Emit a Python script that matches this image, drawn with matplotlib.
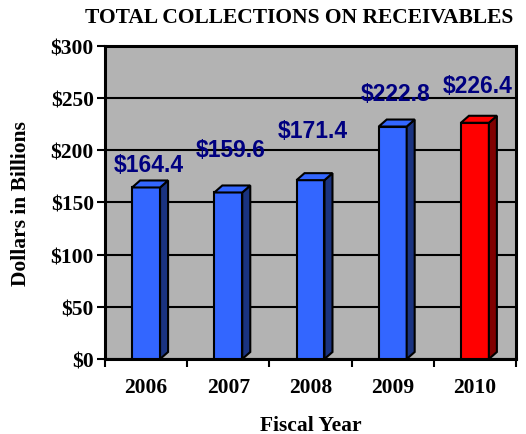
import numpy as np
import matplotlib
matplotlib.use("Agg")
import matplotlib.pyplot as plt
from matplotlib.patches import Polygon

years = ["2006", "2007", "2008", "2009", "2010"]
values = [164.4, 159.6, 171.4, 222.8, 226.4]
labels = ["$164.4", "$159.6", "$171.4", "$222.8", "$226.4"]
yticks = [0, 50, 100, 150, 200, 250, 300]
ytick_labels = ["$0", "$50", "$100", "$150", "$200", "$250", "$300"]
# label lift above each bar top (data units), as placed in the original
label_lift = [22, 41, 48, 32, 36]

front_cols = ["#3366ff"] * 4 + ["#ff0000"]
side_cols = ["#1a3380"] * 4 + ["#800000"]

serif = ["Liberation Serif", "DejaVu Serif"]
sans = ["Liberation Sans", "DejaVu Sans"]

fig = plt.figure(figsize=(5.26, 4.35), dpi=100)
fig.patch.set_facecolor("white")
ax = fig.add_axes([0.1996, 0.1724, 0.7814, 0.7196])
ax.set_facecolor("#b3b3b3")

x = np.arange(len(years))
w = 0.34
ax.set_xlim(-0.5, len(years) - 0.5)
ax.set_ylim(0, 300)

# depth of the fake 3d in data units (about 8px across, 7px up)
dx = 8 * (len(years) / 411.0)
dy = 7 * (300 / 313.0)

ax.bar(x, values, width=w, color=front_cols, edgecolor="black", linewidth=1.5, zorder=3)
for xi, v, fc, sc in zip(x, values, front_cols, side_cols):
    r = xi + w / 2
    l = xi - w / 2
    side = Polygon([(r, 0), (r + dx, dy), (r + dx, v + dy), (r, v)], closed=True,
                   facecolor=sc, edgecolor="black", linewidth=1.5, zorder=3)
    top = Polygon([(l, v), (l + dx, v + dy), (r + dx, v + dy), (r, v)], closed=True,
                  facecolor=fc, edgecolor="black", linewidth=1.5, zorder=3)
    ax.add_patch(side)
    ax.add_patch(top)

for xi, v, lab, lift in zip(x, values, labels, label_lift):
    ax.text(xi + 0.03, v + lift, lab, ha="center", va="center", fontsize=16.5,
            fontweight="bold", color="#000080", family=sans, zorder=4)

ax.set_yticks(yticks)
ax.set_yticklabels(ytick_labels, family=serif, fontweight="bold", fontsize=15.5)
ax.yaxis.grid(True, color="black", linewidth=1.5, zorder=0)
ax.set_axisbelow(True)

ax.set_xticks(x)
ax.set_xticklabels(years, family=serif, fontweight="bold", fontsize=15.5)
ax.set_xticks(np.arange(-0.5, len(years)), minor=True)
ax.tick_params(axis="x", which="major", length=0, pad=13)
ax.tick_params(axis="x", which="minor", length=6, width=1.5, direction="out")
ax.tick_params(axis="y", length=6, width=1.5, direction="out", pad=2)

for s in ax.spines.values():
    s.set_linewidth(2.2)
    s.set_color("black")

ax.set_xlabel("Fiscal Year", family=serif, fontweight="bold", fontsize=15.5, labelpad=13)
ax.set_ylabel("Dollars in Billions", family=serif, fontweight="bold", fontsize=15.5, labelpad=14)
fig.text(0.568, 0.958, "TOTAL COLLECTIONS ON RECEIVABLES", ha="center", va="center",
         family=serif, fontweight="bold", fontsize=15.5)

fig.savefig("out.png", dpi=100)
